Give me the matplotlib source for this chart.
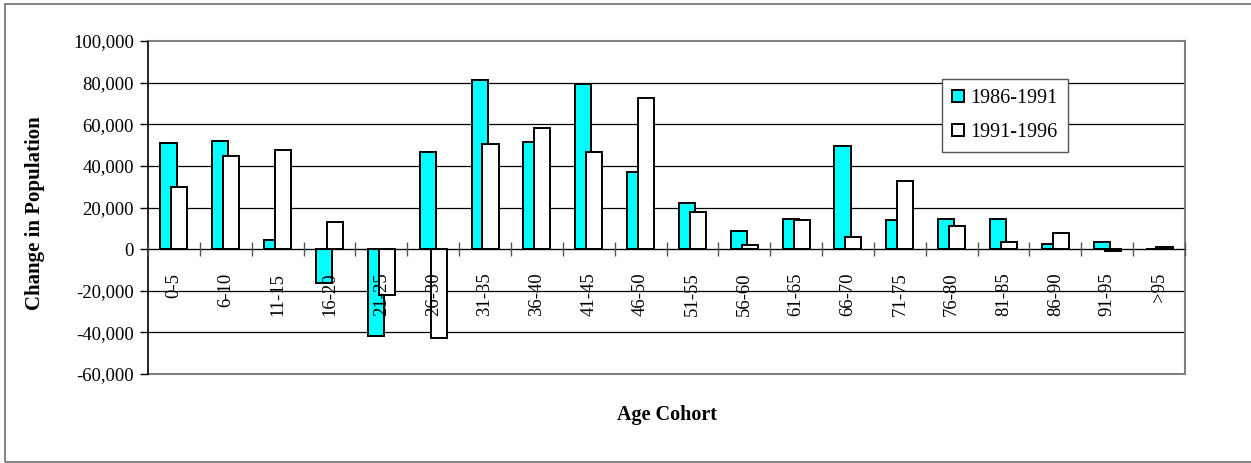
import matplotlib.pyplot as plt
import numpy as np

# population change per age cohort, two census periods
cohorts = ['0-5', '6-10', '11-15', '16-20', '21-25', '26-30', '31-35', '36-40',
           '41-45', '46-50', '51-55', '56-60', '61-65', '66-70', '71-75',
           '76-80', '81-85', '86-90', '91-95', '>95']
chg_86_91 = [51200, 52100, 4300, -16300, -41900, 46900, 81100, 51400,
             79500, 37000, 22200, 8800, 14600, 49600, 13800,
             14600, 14600, 2400, 3500, 200]
chg_91_96 = [29800, 44600, 47800, 13000, -22100, -42700, 50400, 58100,
             46900, 72800, 17900, 1800, 13800, 5900, 32600,
             11000, 3500, 7800, -1100, 1000]
yticks = [-60000, -40000, -20000, 0, 20000, 40000, 60000, 80000, 100000]
ytick_labels = ['-60,000', '-40,000', '-20,000', '0', '20,000', '40,000',
                '60,000', '80,000', '100,000']

plt.rcParams['font.family'] = 'Liberation Serif'

fig = plt.figure(figsize=(12.51, 4.63), dpi=100)
ax = fig.add_axes([148/1251, 89/463, 1037/1251, 333/463])
ax.set_axisbelow(False)  # cohort labels are written over the bars

x = np.arange(len(cohorts))
w = 0.31
ax.bar(x - 0.105, chg_86_91, w, color='#00FFFF', edgecolor='black',
       linewidth=1.4, label='1986-1991', zorder=1.5)
ax.bar(x + 0.105, chg_91_96, w, color='white', edgecolor='black',
       linewidth=1.4, label='1991-1996', zorder=1.6)

ax.set_xlim(-0.5, len(cohorts) - 0.5)
ax.set_ylim(-60000, 100000)

# gridlines
for v in yticks[1:-1]:
    ax.axhline(v, color='black', lw=0.9, zorder=1)

ax.set_yticks(yticks)
ax.set_yticklabels(ytick_labels, fontsize=13.5)
ax.tick_params(axis='y', direction='out', length=6, width=1, pad=4)

# category axis sits at zero
ax.spines['bottom'].set_position(('data', 0))
ax.spines['bottom'].set_color('black')
ax.spines['left'].set_color('black')
ax.spines['left'].set_linewidth(1.2)
for s in ['top', 'right']:
    ax.spines[s].set_color('#808080')
    ax.spines[s].set_linewidth(1.5)
ax.plot([0, 1], [0, 0], transform=ax.transAxes, color='#808080', lw=1.5,
        clip_on=False)

ax.set_xticks(x)
ax.set_xticklabels(cohorts, rotation=90, fontsize=13.5, va='top')
ax.set_xticks(np.arange(-0.5, len(cohorts)), minor=True)
ax.tick_params(axis='x', which='major', length=0, pad=17)
ax.tick_params(axis='x', which='minor', direction='inout', length=10,
               width=1, color='#555555')

fig.text(35/1251, 1 - 213/463, 'Change in Population', rotation=90,
         ha='center', va='center', fontsize=15, fontweight='bold')
fig.text(667/1251, 1 - 415/463, 'Age Cohort', ha='center', va='center',
         fontsize=14.5, fontweight='bold')

leg = ax.legend(loc='upper left', bbox_to_anchor=(942/1251, 1 - 79/463),
                bbox_transform=fig.transFigure, fontsize=14.5, frameon=True,
                fancybox=False, edgecolor='#555555', framealpha=1,
                handlelength=0.6, handleheight=0.6, handletextpad=0.3,
                labelspacing=0.75, borderpad=0.5, borderaxespad=0)
leg.get_frame().set_linewidth(1)
leg.set_zorder(10)

# outer chart border
fig.add_artist(plt.Rectangle((5/1251, 1/463), 1.2, 458/463,
                             transform=fig.transFigure, fill=False,
                             edgecolor='#707070', lw=1.2))

fig.savefig('out.png', dpi=100)
